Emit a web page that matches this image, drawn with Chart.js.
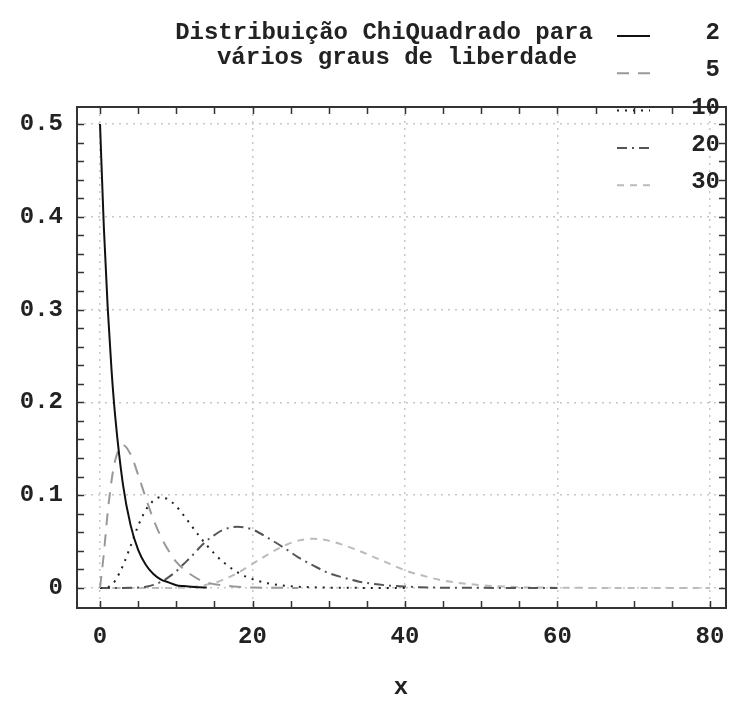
<!DOCTYPE html>
<html>
<head>
<meta charset="utf-8">
<script src="https://cdn.jsdelivr.net/npm/chart.js@4.4.1/dist/chart.umd.min.js"></script>
<style>
  html, body { margin: 0; padding: 0; background: #fff; }
</style>
</head>
<body>
<canvas id="grafico" width="730" height="706"></canvas>
<script>
// valores
const titulo = ['Distribuição ChiQuadrado para', 'vários graus de liberdade'];
const rotuloX = 'x';
const graus = ['2', '5', '10', '20', '30'];
const xs = [0, 0.5, 1, 1.5, 2, 3, 4, 5, 6, 7, 8, 9, 10, 11, 12, 13, 14, 15, 16, 18,
            20, 22, 24, 26, 28, 30, 32, 34, 36, 38, 40, 42, 45, 50, 55, 60, 70, 80];
const gl2  = [0.5, 0.389, 0.303, 0.236, 0.184, 0.112, 0.068, 0.041, 0.025, 0.015, 0.009,
              0.006, 0.003, 0.002, 0.0012, 0.0008, 0.0005];
const gl5  = [0, 0.037, 0.081, 0.115, 0.138, 0.154, 0.144, 0.122, 0.097, 0.074, 0.055, 0.040,
              0.028, 0.020, 0.014, 0.009, 0.006, 0.004, 0.003, 0.0013, 0.0005, 0.0002, 0.0001, 0];
const gl10 = [0, 0.0001, 0.0008, 0.003, 0.008, 0.024, 0.045, 0.067, 0.084, 0.094, 0.098, 0.095,
              0.088, 0.078, 0.067, 0.056, 0.046, 0.037, 0.029, 0.017, 0.0095, 0.005, 0.0027,
              0.0013, 0.0007, 0.0003, 0.0002, 0.0001, 0, 0, 0];
const gl20 = [0, 0, 0, 0, 0, 0, 0.0001, 0.0004, 0.0014, 0.0033, 0.0066, 0.0116, 0.018, 0.026,
              0.034, 0.043, 0.051, 0.057, 0.062, 0.066, 0.063, 0.054, 0.044, 0.033, 0.024,
              0.016, 0.011, 0.0068, 0.0042, 0.0025, 0.0015, 0.0008, 0.0003, 0.0001, 0, 0];
const gl30 = [0, 0, 0, 0, 0, 0, 0, 0, 0, 0, 0, 0, 0.0002, 0.0005, 0.0011, 0.002, 0.0036, 0.0055,
              0.0085, 0.016, 0.026, 0.036, 0.045, 0.051, 0.053, 0.051, 0.046, 0.040, 0.033,
              0.026, 0.019, 0.014, 0.008, 0.003, 0.0009, 0.0003, 0, 0];
const ticksX = [0, 20, 40, 60, 80];
const ticksY = [0, 0.1, 0.2, 0.3, 0.4, 0.5];

const fonte = '"Liberation Mono", "Courier New", monospace';

function pontos(ys) {
    return ys.map((v, i) => ({ x: xs[i], y: v }));
}

const estilos = [
    { cor: '#111', traco: [] },
    { cor: '#999', traco: [12, 9] },
    { cor: '#222', traco: [2, 6] },
    { cor: '#555', traco: [10, 5, 2, 5] },
    { cor: '#bbb', traco: [7, 6] }
];
const series = [gl2, gl5, gl10, gl20, gl30];

function semFolga(s) {
    s.paddingLeft = 0;
    s.paddingRight = 0;
    s.paddingTop = 0;
    s.paddingBottom = 0;
}

const extras = {
    id: 'extras',
    afterDraw(chart) {
        const { ctx, chartArea: a, scales: { x, y } } = chart;
        ctx.save();
        // moldura
        ctx.strokeStyle = '#333';
        ctx.lineWidth = 2;
        ctx.setLineDash([]);
        ctx.strokeRect(a.left, a.top, a.right - a.left, a.bottom - a.top);
        // marcas para dentro, nos quatro lados
        ctx.lineWidth = 1.5;
        ctx.beginPath();
        for (let v = 0; v <= 80; v += 5) {
            const px = Math.round(x.getPixelForValue(v)) + 0.5;
            ctx.moveTo(px, a.bottom); ctx.lineTo(px, a.bottom - 7);
            ctx.moveTo(px, a.top); ctx.lineTo(px, a.top + 7);
        }
        for (let i = 0; i <= 25; i++) {
            const py = Math.round(y.getPixelForValue(i * 0.02)) + 0.5;
            ctx.moveTo(a.left, py); ctx.lineTo(a.left + 7, py);
            ctx.moveTo(a.right, py); ctx.lineTo(a.right - 7, py);
        }
        ctx.stroke();

        // titulo
        ctx.fillStyle = '#222';
        ctx.font = 'bold 24px ' + fonte;
        ctx.textAlign = 'center';
        ctx.textBaseline = 'middle';
        ctx.fillText(titulo[0], 384, 33);
        ctx.fillText(titulo[1], 397, 58);
        // rotulo do eixo x
        ctx.fillText(rotuloX, 401, 688);

        // legenda
        chart.data.datasets.forEach((ds, i) => {
            const ly = 33 + i * 37.3;
            ctx.strokeStyle = ds.borderColor;
            ctx.lineWidth = 2;
            ctx.setLineDash(ds.borderDash);
            ctx.beginPath();
            ctx.moveTo(617, ly + 3);
            ctx.lineTo(650, ly + 3);
            ctx.stroke();
            ctx.setLineDash([]);
            ctx.fillStyle = '#222';
            ctx.textAlign = 'right';
            ctx.fillText(ds.label, 720, ly);
        });
        ctx.restore();
    }
};

new Chart(document.getElementById('grafico').getContext('2d'), {
    type: 'line',
    data: {
        datasets: series.map((ys, i) => ({
            label: graus[i],
            data: pontos(ys),
            borderColor: estilos[i].cor,
            borderDash: estilos[i].traco,
            borderWidth: 2,
            pointRadius: 0,
            fill: false,
            cubicInterpolationMode: 'monotone'
        }))
    },
    options: {
        responsive: false,
        animation: false,
        layout: { padding: { top: 107, right: 4, left: 0, bottom: 0 } },
        plugins: { legend: { display: false }, title: { display: false }, tooltip: { enabled: false } },
        scales: {
            x: {
                type: 'linear',
                min: -3.02,
                max: 82.1,
                afterFit: s => { s.height = 98; semFolga(s); },
                afterBuildTicks: s => { s.ticks = ticksX.map(v => ({ value: v })); },
                ticks: {
                    includeBounds: false,
                    padding: 15,
                    color: '#222',
                    font: { family: fonte, size: 24, weight: 'bold' },
                    maxRotation: 0
                },
                grid: { drawTicks: false, color: '#c8c8c8', lineWidth: 1.5 },
                border: { display: false, dash: [2, 5] }
            },
            y: {
                type: 'linear',
                min: -0.0216,
                max: 0.5183,
                afterFit: s => { s.width = 77; semFolga(s); },
                afterBuildTicks: s => { s.ticks = ticksY.map(v => ({ value: v })); },
                ticks: {
                    includeBounds: false,
                    padding: 14,
                    color: '#222',
                    font: { family: fonte, size: 24, weight: 'bold' },
                    callback: v => String(+v.toFixed(1))
                },
                grid: { drawTicks: false, color: '#c8c8c8', lineWidth: 1.5 },
                border: { display: false, dash: [2, 5] }
            }
        }
    },
    plugins: [extras]
});
</script>
</body>
</html>
